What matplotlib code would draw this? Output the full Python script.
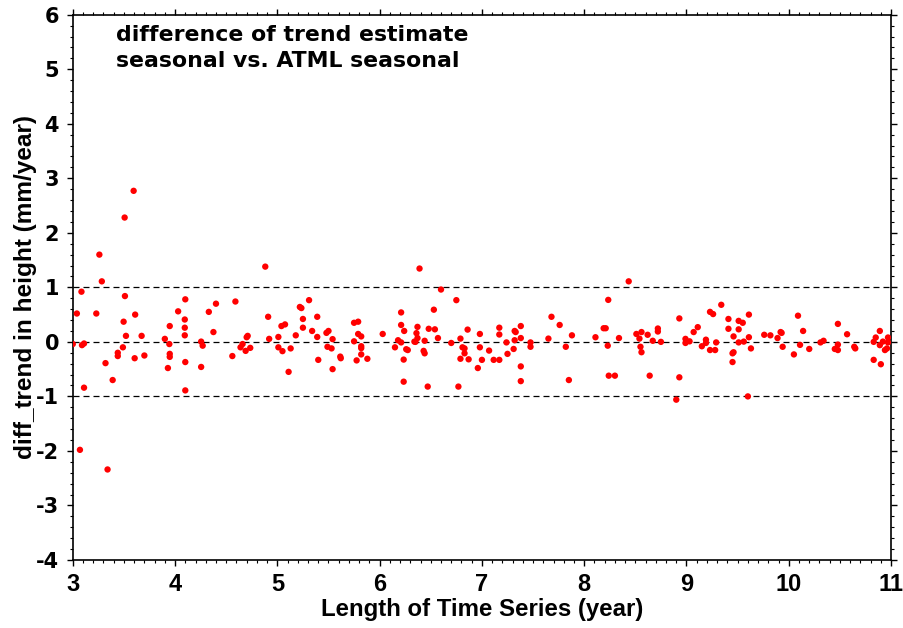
import matplotlib
matplotlib.use("Agg")
import matplotlib.pyplot as plt
from matplotlib.ticker import MultipleLocator

plt.rcParams['font.family'] = ['Liberation Sans', 'DejaVu Sans']
plt.rcParams['font.weight'] = 'bold'
plt.rcParams['axes.unicode_minus'] = False

length_years = [
    3.595, 3.507, 3.26, 3.284, 3.085, 3.51, 4.10, 3.04, 3.23, 3.61, 4.03, 4.095, 3.497, 3.948, 4.095,
    3.52, 3.673, 4.095, 3.90, 3.0, 3.09, 3.11, 3.944, 4.255, 4.27, 3.49, 3.44, 3.44, 3.948, 3.948,
    3.605, 3.70, 3.32, 4.10, 3.93, 4.255, 3.39, 3.11, 4.10, 3.07, 3.34,
    4.882, 4.40, 4.59, 4.33, 5.22, 5.235, 5.31, 4.91, 5.39, 5.25, 5.075, 5.04, 5.25, 5.34, 5.50,
    5.48, 4.375, 4.71, 4.70, 5.18, 5.39, 5.01, 4.92, 5.54, 4.66, 4.64, 4.735, 4.69, 5.01, 5.05,
    5.13, 5.49, 5.53, 5.40, 4.56, 5.11, 5.54,
    6.39, 6.60, 6.75, 6.53, 6.21, 5.75, 5.79, 6.21, 6.37, 6.24, 6.48, 6.54, 6.36, 5.79, 5.82,
    6.03, 6.86, 6.57, 6.79, 6.37, 5.75, 6.18, 6.21, 6.34, 6.35, 6.44, 6.70, 6.15, 6.26, 6.275,
    5.82, 5.82, 6.81, 6.83, 6.43, 6.44, 6.83, 5.615, 5.62, 5.82, 5.775, 5.88, 6.235, 6.79, 6.87,
    6.235, 6.47, 6.77,
    7.68, 7.76, 7.88, 8.11, 7.38, 7.32, 7.33, 7.17, 7.17, 6.98, 7.38, 7.32, 7.24, 7.475, 7.475,
    7.65, 6.98, 7.07, 7.31, 7.82, 7.25, 7.0, 7.115, 7.17, 6.96, 7.38, 7.38, 7.85,
    8.435, 8.235, 9.34, 9.23, 9.26, 8.93, 9.41, 9.41, 8.19, 8.21, 9.11, 9.07, 8.72, 8.72, 8.56,
    8.51, 8.62, 8.34, 8.54, 8.67, 8.75, 8.99, 9.03, 9.19, 8.99, 9.19, 9.29, 8.23, 9.15, 8.55,
    8.56, 9.23, 9.28, 8.24, 8.30, 8.64, 8.93, 8.90,
    9.51, 9.55, 9.61, 9.51, 9.46, 9.61, 9.51, 9.56, 9.63, 9.46, 9.45, 9.45, 9.60, 9.76, 9.82,
    9.89, 9.92, 9.93, 9.94, 10.05, 10.09, 10.14, 10.11, 10.20, 10.31, 10.34, 10.48, 10.48, 10.45, 10.48,
    10.57, 10.64, 10.65, 10.83, 10.85, 10.89, 10.89, 10.92, 10.94, 10.97, 10.96, 10.83, 10.90, 10.97,
]

diff_trend = [
    2.77, 2.28, 1.60, 1.11, 0.92, 0.84, 0.78, 0.52, 0.52, 0.50, 0.56, 0.41, 0.37, 0.29, 0.26,
    0.11, 0.11, 0.12, 0.055, -0.04, -0.06, -0.03, -0.04, 0.005, -0.07, -0.10, -0.20, -0.26, -0.22, -0.275,
    -0.30, -0.25, -0.39, -0.37, -0.48, -0.46, -0.70, -0.84, -0.89, -1.98, -2.34,
    1.38, 0.70, 0.74, 0.55, 0.64, 0.62, 0.765, 0.46, 0.46, 0.42, 0.32, 0.29, 0.26, 0.20, 0.20,
    0.165, 0.18, 0.11, 0.085, 0.12, 0.09, 0.09, 0.055, 0.05, -0.04, -0.10, -0.11, -0.165, -0.10, -0.17,
    -0.12, -0.09, -0.12, -0.33, -0.26, -0.55, -0.50,
    1.345, 0.96, 0.765, 0.59, 0.54, 0.35, 0.37, 0.31, 0.275, 0.20, 0.24, 0.23, 0.16, 0.145, 0.10,
    0.145, 0.225, 0.07, 0.06, 0.07, 0.01, 0.03, -0.01, 0.005, 0.0, 0.02, -0.02, -0.10, -0.135, -0.15,
    -0.08, -0.115, -0.10, -0.12, -0.165, -0.21, -0.21, -0.27, -0.30, -0.23, -0.34, -0.31, -0.325, -0.31, -0.32,
    -0.73, -0.82, -0.82,
    0.46, 0.31, 0.12, 0.085, 0.29, 0.20, 0.18, 0.26, 0.135, 0.145, 0.07, 0.03, -0.01, -0.01, -0.09,
    0.06, -0.10, -0.16, -0.13, -0.09, -0.22, -0.33, -0.33, -0.33, -0.48, -0.45, -0.72, -0.70,
    1.11, 0.77, 0.68, 0.55, 0.51, 0.43, 0.42, 0.24, 0.25, 0.25, 0.27, 0.18, 0.245, 0.19, 0.18,
    0.145, 0.13, 0.07, 0.06, 0.02, 0.0, 0.055, 0.01, 0.04, -0.02, -0.02, -0.01, -0.07, -0.08, -0.09,
    -0.19, -0.15, -0.15, -0.62, -0.62, -0.62, -0.65, -1.06,
    0.385, 0.35, 0.50, 0.23, 0.10, 0.085, -0.01, 0.005, -0.12, -0.19, -0.21, -0.37, -1.0, 0.13, 0.12,
    0.07, 0.18, 0.165, -0.09, -0.23, 0.48, 0.20, -0.055, -0.13, -0.01, 0.02, 0.33, -0.05, -0.13, -0.15,
    0.14, -0.09, -0.12, 0.0, 0.08, 0.20, -0.06, 0.005, -0.15, 0.08, -0.12, -0.33, -0.41, -0.01,
]

ref_lines = [1, 0, -1]
x_ticks = [3, 4, 5, 6, 7, 8, 9, 10, 11]
y_ticks = [-4, -3, -2, -1, 0, 1, 2, 3, 4, 5, 6]
title_text = "difference of trend estimate\nseasonal vs. ATML seasonal"
x_label = "Length of Time Series (year)"
y_label = "diff_trend in height (mm/year)"

fig = plt.figure(figsize=(9.04, 6.28), dpi=100)
ax = fig.add_axes([0.0805, 0.1083, 0.9052, 0.8683])

for yv in ref_lines:
    ax.axhline(yv, color='black', lw=0.9, ls=(0, (4.8, 3.2)), zorder=1)

ax.scatter(length_years, diff_trend, s=21, color='#ff0000', edgecolors='none', zorder=3)

ax.set_xlim(3, 11)
ax.set_ylim(-4, 6)
ax.set_xticks(x_ticks)
ax.set_yticks(y_ticks)
ax.xaxis.set_minor_locator(MultipleLocator(0.1))
ax.yaxis.set_minor_locator(MultipleLocator(0.2))
ax.tick_params(which='major', direction='out', length=4.4, width=1.0,
               top=True, right=True)
ax.tick_params(which='minor', direction='out', length=2.2, width=0.8,
               top=True, right=True)
ax.tick_params(axis='x', which='major', labelsize=17, pad=5)
ax.tick_params(axis='y', which='major', labelsize=15, pad=5.5)
for lab in ax.get_xticklabels():
    lab.set_fontweight('bold')
for lab in ax.get_yticklabels():
    lab.set_fontweight('bold')
    lab.set_family('DejaVu Sans')
for sp in ax.spines.values():
    sp.set_linewidth(1.2)

ax.set_xlabel(x_label, fontsize=17.3, fontweight='bold', labelpad=1.5)
ax.set_ylabel(y_label, fontsize=17.6, fontweight='bold', labelpad=-0.5)

ax.text(0.053, 0.982, title_text, transform=ax.transAxes, ha='left', va='top',
        fontsize=15.8, fontweight='bold', family='DejaVu Sans', linespacing=1.42)

fig.savefig("out.png", dpi=100)
